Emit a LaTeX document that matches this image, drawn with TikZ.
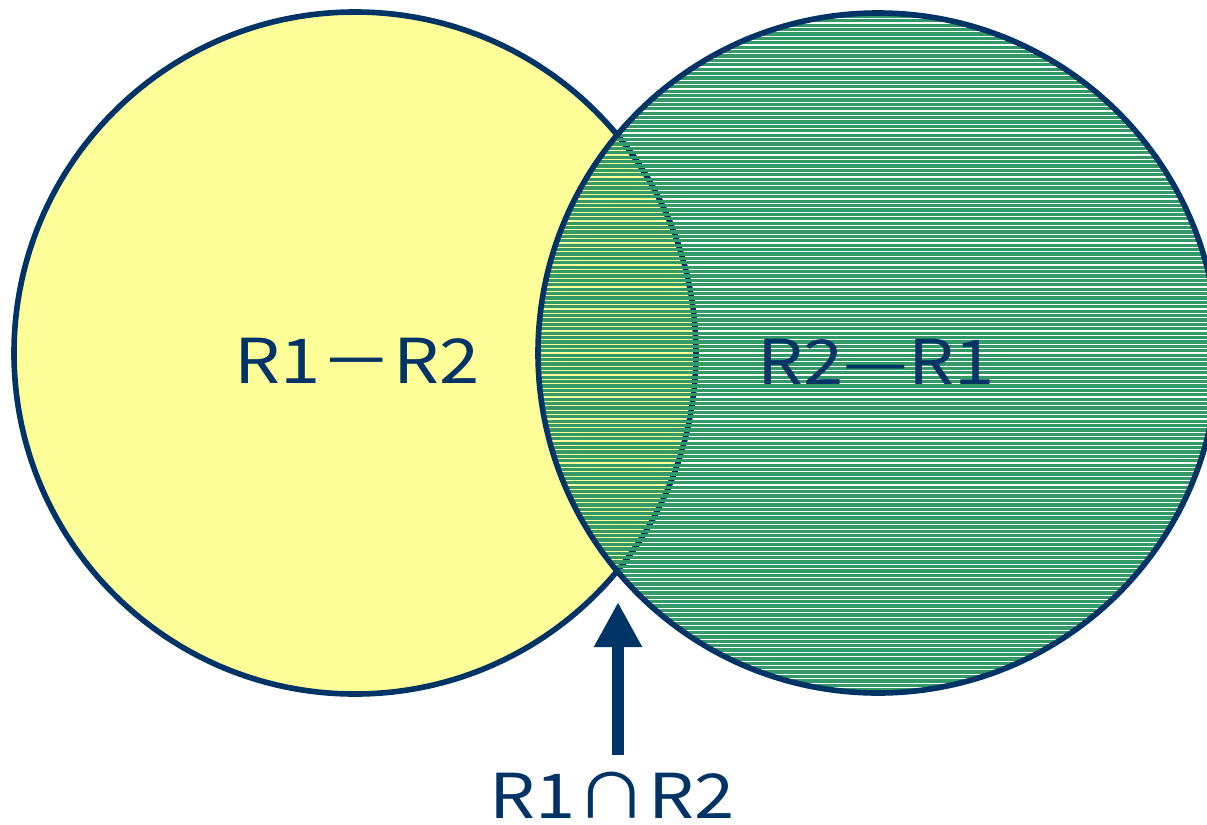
\documentclass[tikz,border=0pt]{standalone}
\usepackage{fontspec}
\setmainfont{Noto Sans CJK JP}
\newfontfamily\widegothic[FakeStretch=1.17]{Noto Sans CJK JP}
\usetikzlibrary{arrows.meta}
\definecolor{navy}{RGB}{0,51,102}
\definecolor{paleyellow}{RGB}{255,255,153}
\definecolor{seagreen}{RGB}{51,153,102}

\begin{document}
\begin{tikzpicture}[x=0.025cm,y=-0.025cm,
    setlabel/.style={text=navy,font=\widegothic\fontsize{44}{50}\selectfont},
    rim/.style={navy,line width=4pt},
    pointer/.style={navy,line width=8.5pt,-{Triangle[width=32pt,length=32pt]}}]
    \useasboundingbox (0,0) rectangle (1207,824);

    % R1: plain yellow disc
    \filldraw[rim,fill=paleyellow] (355,353) circle (341);

    % R2: green lines, clear between them
    \begin{scope}
        \clip (878,353) circle (340);
        \foreach \y in {12,16.4,...,700}
            \draw[seagreen,line width=2.4pt] (530,\y) -- (1225,\y);
    \end{scope}
    \draw[rim] (878,353) circle (340);

    % Add the labels
    \node[setlabel] (lminus) at (357,361) {R1－R2};
    \node[setlabel] (rminus) at (876,362) {R2—R1};
    \node[setlabel,inner sep=0pt] (both) at (612,795) {R1∩R2};

    \coordinate (meet) at (618,602);
    \draw[pointer,shorten <=12pt] (both.north -| meet) -- (meet);
\end{tikzpicture}
\end{document}
